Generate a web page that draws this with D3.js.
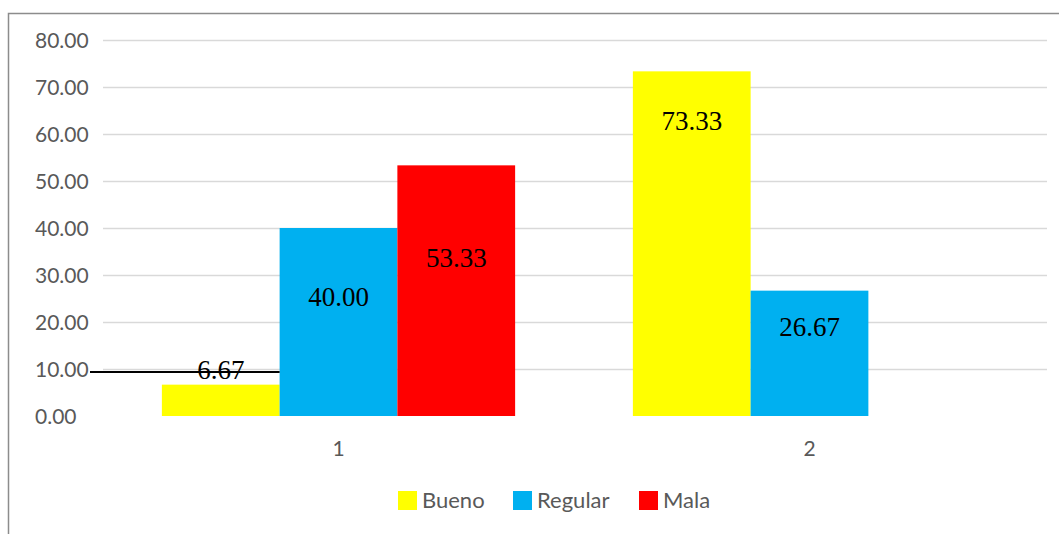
<!DOCTYPE html>
<html>
<head>
<meta charset="utf-8">
<script src="https://cdn.jsdelivr.net/npm/d3@7"></script>
<style>
  body { margin: 0; background: #fff; }
  svg { display: block; }
</style>
</head>
<body>
<svg></svg>
<script>
let width = 1059, height = 534;

// data
var categories = ["1", "2"];
var seriesNames = ["Bueno", "Regular", "Mala"];
var bueno = [6.67, 73.33];
var regular = [40.00, 26.67];
var mala = [53.33, null];
var yTicks = [0, 10, 20, 30, 40, 50, 60, 70, 80];

var colors = ["#ffff00", "#00b0f0", "#ff0000"];
// hand-placed label baselines (in data units), as in the source chart
var labelAt = [[7.9, 60.9], [23.4, 17.0], [31.7, null]];

let svg = d3.select("svg")
    .attr("width", width)
    .attr("height", height);

// chart border (clipped right / bottom)
svg.append("path")
    .attr("d", "M8.5," + height + " V13.5 H" + width)
    .attr("fill", "none")
    .attr("stroke", "#8c8c8c")
    .attr("stroke-width", 1.5);

var x = d3.scaleBand()
    .domain(categories)
    .range([103, 1045]);

var y = d3.scaleLinear()
    .domain([0, 80])
    .range([416, 40]);

var inner = d3.scaleBand()
    .domain(seriesNames)
    .range([0, x.bandwidth()])
    .paddingOuter(0.5);

// gridlines
svg.append("g")
    .selectAll("line")
    .data(yTicks.filter(d => d > 0))
    .enter()
    .append("line")
    .attr("x1", 103)
    .attr("x2", 1047)
    .attr("y1", d => Math.round(y(d)) + 0.5)
    .attr("y2", d => Math.round(y(d)) + 0.5)
    .attr("stroke", "#d9d9d9")
    .attr("stroke-width", 1.5);

// y tick labels
svg.append("g")
    .selectAll("text")
    .data(yTicks)
    .enter()
    .append("text")
    .attr("x", 35)
    .attr("y", d => y(d) + 8)
    .attr("font-family", "Lato, sans-serif")
    .attr("font-size", 21)
    .attr("fill", "#595959")
    .text(d => d3.format(".2f")(d));

// x labels
svg.append("g")
    .selectAll("text")
    .data(categories)
    .enter()
    .append("text")
    .attr("x", d => x(d) + x.bandwidth() / 2)
    .attr("y", 456)
    .attr("text-anchor", "middle")
    .attr("font-family", "Lato, sans-serif")
    .attr("font-size", 21)
    .attr("fill", "#595959")
    .text(d => d);

var series = [bueno, regular, mala];

var bars = [];
series.forEach((vals, si) => {
    vals.forEach((v, ci) => {
        if (v == null) return;
        bars.push({ s: seriesNames[si], si: si, c: categories[ci], ci: ci, v: v, lab: labelAt[si][ci] });
    });
});

svg.append("g")
    .selectAll("rect")
    .data(bars)
    .enter()
    .append("rect")
    .attr("x", d => x(d.c) + inner(d.s))
    .attr("width", inner.bandwidth())
    .attr("y", d => y(d.v))
    .attr("height", d => y(0) - y(d.v))
    .attr("fill", d => colors[d.si]);

// stray line through the 6.67 label
var first = bars[0];
svg.append("line")
    .attr("x1", 90)
    .attr("x2", x(first.c) + inner(first.s) + inner.bandwidth())
    .attr("y1", 372)
    .attr("y2", 372)
    .attr("stroke", "#000")
    .attr("stroke-width", 2);

svg.append("g")
    .selectAll("text")
    .data(bars)
    .enter()
    .append("text")
    .attr("x", d => x(d.c) + inner(d.s) + inner.bandwidth() / 2)
    .attr("y", d => y(d.lab))
    .attr("text-anchor", "middle")
    .attr("font-family", "'Liberation Serif', 'Times New Roman', serif")
    .attr("font-size", 27)
    .attr("fill", "#000")
    .text(d => d3.format(".2f")(d.v));

// legend
var legendX = [398, 513, 639];
var legend = svg.append("g")
    .selectAll("g")
    .data(seriesNames)
    .enter()
    .append("g")
    .attr("transform", (d, i) => "translate(" + legendX[i] + ",491)");

legend.append("rect")
    .attr("width", 19)
    .attr("height", 19)
    .attr("fill", (d, i) => colors[i]);

legend.append("text")
    .attr("x", 24)
    .attr("y", 17)
    .attr("font-family", "Lato, sans-serif")
    .attr("font-size", 22)
    .attr("fill", "#595959")
    .text(d => d);
</script>
</body>
</html>
